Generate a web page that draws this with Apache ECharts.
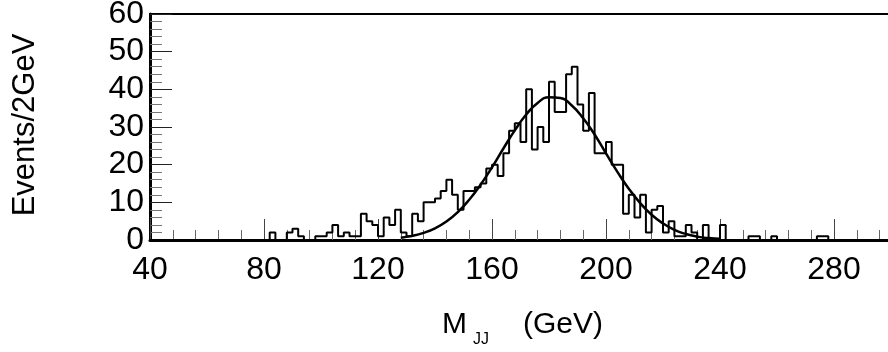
<!DOCTYPE html>
<html>
<head>
<meta charset="utf-8">
<title>M_JJ</title>
<script src="https://cdn.jsdelivr.net/npm/echarts@6/dist/echarts.min.js"></script>
<style>
	html, body { margin: 0; padding: 0; background: #ffffff; }
	#main { width: 888px; height: 352px; }
</style>
</head>
<body>
<div id="main"></div>
<script>
// histogram: 2 GeV bins starting at 40 GeV
const binStart = 40;
const binWidth = 2;
const counts = [
	0, 0, 0, 0, 0, 0, 0, 0, 0, 0,   // 40-58
	0, 0, 0, 0, 0, 0, 0, 0, 0, 0,   // 60-78
	0, 2, 0, 0, 2, 3, 1, 0, 0, 1,   // 80-98
	1, 2, 4, 1, 2, 1, 1, 7, 5, 4,   // 100-118
	1, 6, 4, 8, 2, 1, 7, 5, 10, 10, // 120-138
	11, 13, 16, 12, 8, 13, 13, 14, 15, 19, // 140-158
	20, 17, 23, 29, 31, 26, 40, 24, 30, 26, // 160-178
	42, 34, 34, 44, 46, 36, 29, 39, 23, 23, // 180-198
	26, 20, 20, 7, 12, 6, 12, 2, 8, 9,      // 200-218
	2, 5, 1, 1, 4, 2, 0, 4, 0, 0,           // 220-238
	4, 0, 0, 0, 0, 1, 1, 0, 0, 1,           // 240-258
	0, 0, 0, 0, 0, 0, 0, 1, 1, 0,           // 260-278
	0, 0, 0, 0, 0, 0, 0, 0, 0, 0            // 280-298
];

// fitted curve
const fitMass = [128, 132, 136, 140, 144, 148, 152, 156, 160, 164, 168, 172, 176, 180, 184,
	188, 192, 196, 200, 204, 208, 212, 216, 220, 224, 228, 232, 236, 240];
const fitValue = [0.6, 1.1, 1.9, 3.1, 4.9, 7.4, 10.7, 14.7, 19.3, 24.3, 29.1, 33.3, 36.4, 37.9, 37.7,
	35.7, 32.3, 28.0, 23.0, 18.1, 13.6, 9.8, 6.7, 4.4, 2.7, 1.6, 0.9, 0.5, 0.3];

const xTickLabels = [40, 80, 120, 160, 200, 240, 280];
const yTickLabels = [0, 10, 20, 30, 40, 50, 60];

const font = '"Liberation Sans", Arial, sans-serif';

function histPoints() {
	var pts = [];
	for (var i = 0; i < counts.length; i++) {
		pts.push([binStart + i * binWidth, counts[i]]);
	}
	pts.push([binStart + counts.length * binWidth, counts[counts.length - 1]]);
	return pts;
}

const chart = echarts.init(document.getElementById('main'), null, {
	renderer: 'canvas'
});

var option = {
	backgroundColor: '#ffffff',
	animation: false,
	grid: {
		left: 150,
		top: 14,
		width: 741,
		height: 226,
		outerBoundsMode: 'none',
		show: true,
		borderColor: '#000',
		borderWidth: 2,
		backgroundColor: 'transparent'
	},
	xAxis: {
		type: 'value',
		min: 40,
		max: 300,
		interval: 40,
		axisLine: { onZero: false, lineStyle: { color: '#000', width: 3 } },
		axisTick: { inside: true, length: 21, lineStyle: { color: '#444', width: 1 } },
		minorTick: { show: true, splitNumber: 5, length: 10, lineStyle: { color: '#666', width: 1 } },
		splitLine: { show: false },
		axisLabel: {
			margin: 14,
			color: '#000',
			fontSize: 32,
			fontFamily: font,
			formatter: function (v) {
				return xTickLabels.indexOf(v) >= 0 ? String(v) : '';
			}
		}
	},
	yAxis: {
		type: 'value',
		min: 0,
		max: 60,
		interval: 10,
		axisLine: { show: true, lineStyle: { color: '#000', width: 3 } },
		axisTick: { show: true, inside: true, length: 22, lineStyle: { color: '#222', width: 1 } },
		minorTick: { show: true, splitNumber: 5, length: 12, lineStyle: { color: '#777', width: 1 } },
		splitLine: { show: false },
		axisLabel: {
			margin: 6,
			color: '#000',
			fontSize: 32,
			fontFamily: font,
			formatter: function (v) {
				return yTickLabels.indexOf(v) >= 0 ? String(v) : '';
			}
		}
	},
	graphic: [
		{
			type: 'text',
			x: 25,
			y: 125,
			rotation: Math.PI / 2,
			style: {
				text: 'Events/2GeV',
				fontSize: 31,
				fontFamily: font,
				fill: '#000',
				align: 'center',
				verticalAlign: 'middle'
			}
		},
		{
			type: 'text',
			x: 442,
			y: 325,
			style: { text: 'M', fontSize: 30, fontFamily: font, fill: '#000', verticalAlign: 'middle' }
		},
		{
			type: 'text',
			x: 473,
			y: 340,
			style: { text: 'JJ', fontSize: 16, fontFamily: font, fill: '#000', verticalAlign: 'middle' }
		},
		{
			type: 'text',
			x: 523,
			y: 325,
			style: { text: '(GeV)', fontSize: 30, fontFamily: font, fill: '#000', verticalAlign: 'middle' }
		}
	],
	series: [
		{
			name: 'data',
			type: 'line',
			step: 'end',
			showSymbol: false,
			data: histPoints(),
			lineStyle: { color: '#000', width: 2 },
			z: 3
		},
		{
			name: 'fit',
			type: 'line',
			smooth: true,
			showSymbol: false,
			data: fitMass.map(function (m, i) { return [m, fitValue[i]]; }),
			lineStyle: { color: '#000', width: 2.5 },
			z: 4
		}
	]
};

chart.setOption(option);
</script>
</body>
</html>
